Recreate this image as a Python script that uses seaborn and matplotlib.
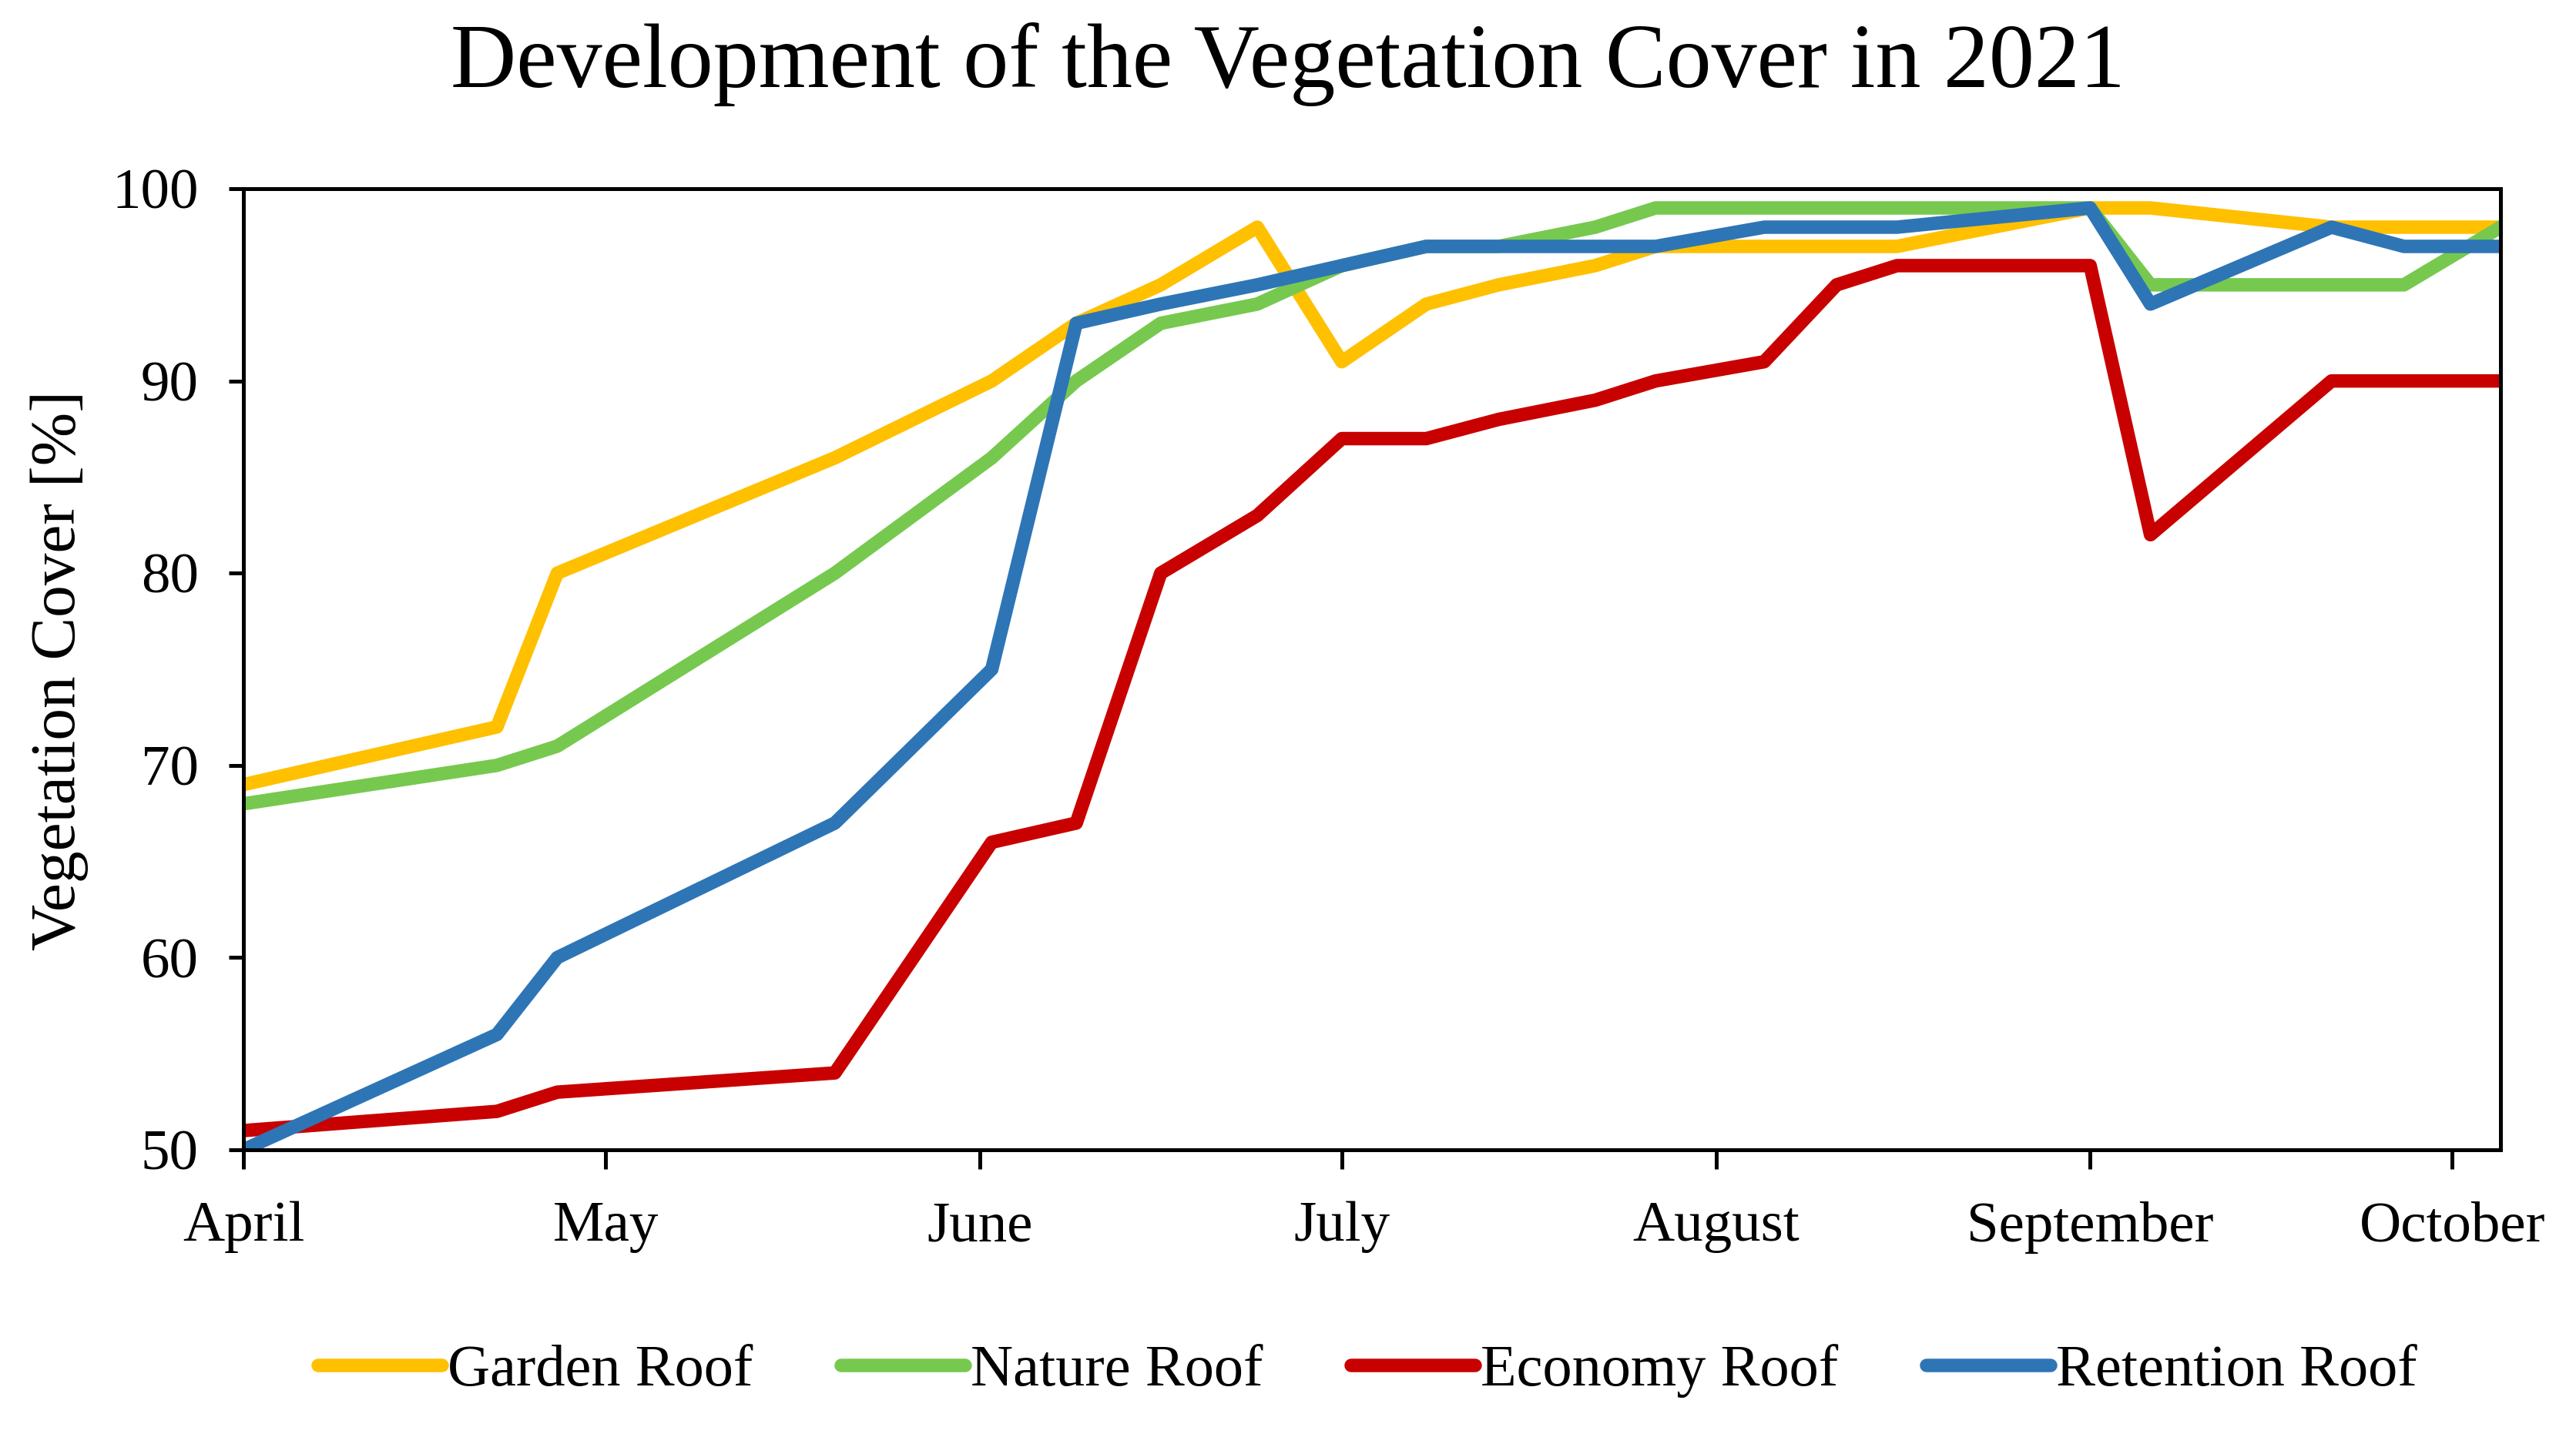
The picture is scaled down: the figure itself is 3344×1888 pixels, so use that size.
import matplotlib
matplotlib.use("Agg")
import matplotlib.pyplot as plt
import matplotlib.dates as mdates
import seaborn as sns
import pandas as pd

dates = ["2021-04-01", "2021-04-22", "2021-04-27", "2021-05-20", "2021-06-02",
         "2021-06-09", "2021-06-16", "2021-06-24", "2021-07-01", "2021-07-08",
         "2021-07-14", "2021-07-22", "2021-07-27", "2021-08-05", "2021-08-11",
         "2021-08-16", "2021-09-01", "2021-09-06", "2021-09-21", "2021-09-27",
         "2021-10-05"]

garden = [69, 72, 80, 86, 90, 93, 95, 98, 91, 94, 95, 96, 97, 97, 97, 97, 99, 99, 98, 98, 98]
nature = [68, 70, 71, 80, 86, 90, 93, 94, 96, 97, 97, 98, 99, 99, 99, 99, 99, 95, 95, 95, 98]
economy = [51, 52, 53, 54, 66, 67, 80, 83, 87, 87, 88, 89, 90, 91, 95, 96, 96, 82, 90, 90, 90]
retention = [50, 56, 60, 67, 75, 93, 94, 95, 96, 97, 97, 97, 97, 98, 98, 98, 99, 94, 98, 97, 97]

series_names = ["Garden Roof", "Nature Roof", "Economy Roof", "Retention Roof"]
colors = ["#FFC000", "#76C94E", "#C80000", "#2E75B6"]

title = "Development of the Vegetation Cover in 2021"
ylabel = "Vegetation Cover [%]"
yticks = [50, 60, 70, 80, 90, 100]

rows = []
for name, vals in zip(series_names, [garden, nature, economy, retention]):
    for d, v in zip(dates, vals):
        rows.append({"date": pd.Timestamp(d), "value": v, "series": name})
df = pd.DataFrame(rows)

sns.set_theme(style="white")
plt.rcParams["font.family"] = ["Liberation Serif", "DejaVu Serif"]
plt.rcParams["text.color"] = "black"

fig = plt.figure(figsize=(16.72, 9.44), dpi=200)
ax = fig.add_axes([0.0945, 0.2092, 0.8762, 0.661])

sns.lineplot(data=df, x="date", y="value", hue="series", hue_order=series_names,
             palette=dict(zip(series_names, colors)), linewidth=6.3, ax=ax,
             legend=True)

ax.set_ylim(50, 100)
ax.set_xlim(pd.Timestamp("2021-04-01"), pd.Timestamp("2021-10-05"))
ax.set_yticks(yticks)
ax.xaxis.set_major_locator(mdates.MonthLocator())
ax.xaxis.set_major_formatter(mdates.DateFormatter("%B"))
ax.set_xlabel("")
ax.set_ylabel("")

for s in ax.spines.values():
    s.set_visible(True)
    s.set_color("black")
    s.set_linewidth(1.8)

ax.tick_params(axis="x", direction="out", length=9, width=1.8, pad=15,
               labelsize=27, colors="black", bottom=True)
ax.tick_params(axis="y", direction="out", length=7, width=1.8, pad=14,
               labelsize=27, colors="black", left=True)

fig.text(0.023, 0.539, ylabel, rotation=90, ha="center", va="center",
         fontsize=30, color="black")
fig.text(0.5, 0.956, title, ha="center", va="center", fontsize=42.5, color="black")

handles, labels = ax.get_legend_handles_labels()
ax.get_legend().remove()
leg = fig.legend(handles, labels, loc="center", bbox_to_anchor=(0.531, 0.057), ncol=4,
                 frameon=False, fontsize=27.5, handlelength=2.1, handletextpad=0.1,
                 columnspacing=1.5)
for t in leg.get_texts():
    t.set_color("black")

fig.savefig("out.png", dpi=200)
